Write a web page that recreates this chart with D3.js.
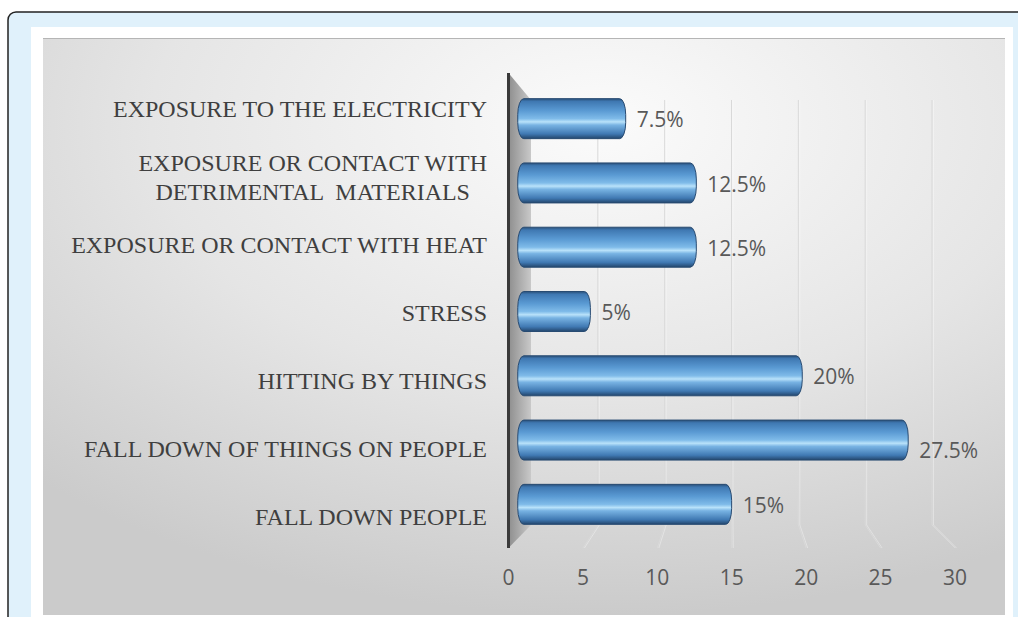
<!DOCTYPE html>
<html>
<head>
<meta charset="utf-8">
<script src="https://cdn.jsdelivr.net/npm/d3@7"></script>
<style>
  html, body { margin: 0; padding: 0; background: #fff; }
  svg { display: block; }
</style>
</head>
<body>
<svg id="viz"></svg>
<script>
var width = 1018;
var height = 617;

// data
var categories = [
	"EXPOSURE TO THE ELECTRICITY",
	"EXPOSURE OR CONTACT WITH\nDETRIMENTAL  MATERIALS",
	"EXPOSURE OR CONTACT WITH HEAT",
	"STRESS",
	"HITTING BY THINGS",
	"FALL DOWN OF THINGS ON PEOPLE",
	"FALL DOWN PEOPLE"
];
var values = [7.5, 12.5, 12.5, 5, 20, 27.5, 15];
var valueLabels = ["7.5%", "12.5%", "12.5%", "5%", "20%", "27.5%", "15%"];
var ticks = [0, 5, 10, 15, 20, 25, 30];

var svg = d3.select("#viz")
	.attr("width", width)
	.attr("height", height)

var defs = svg.append("defs");

// chart background
var bg = defs.append("radialGradient").attr("id", "bg")
	.attr("cx", "58%").attr("cy", "15%").attr("r", "85%")
	.attr("fx", "58%").attr("fy", "15%");
bg.append("stop").attr("offset", "0%").attr("stop-color", "#fbfbfb");
bg.append("stop").attr("offset", "55%").attr("stop-color", "#e5e5e5");
bg.append("stop").attr("offset", "100%").attr("stop-color", "#cbcbcb");

// cylinder look for the bars
var barGrad = defs.append("linearGradient").attr("id", "bar")
	.attr("x1", 0).attr("y1", 0).attr("x2", 0).attr("y2", 1);
[["0%", "#2a5079"], ["7%", "#3f78b2"], ["30%", "#5a9ad3"], ["50%", "#7fbbe9"],
 ["58%", "#b9e2fa"], ["66%", "#78b3e3"], ["88%", "#4079b3"], ["100%", "#23466c"]]
	.forEach(s => barGrad.append("stop").attr("offset", s[0]).attr("stop-color", s[1]));

var wallGrad = defs.append("linearGradient").attr("id", "wall")
	.attr("x1", 0).attr("y1", 0).attr("x2", 1).attr("y2", 0);
wallGrad.append("stop").attr("offset", "0%").attr("stop-color", "#8e8e8e");
wallGrad.append("stop").attr("offset", "100%").attr("stop-color", "#c9c9c9");

// frame
svg.append("rect")
	.attr("x", 8).attr("y", 12).attr("width", 1040).attr("height", 640)
	.attr("rx", 8)
	.style("fill", "#e0f1fb").style("stroke", "#222").style("stroke-width", 1.5);
svg.append("rect")
	.attr("x", 31).attr("y", 27).attr("width", 982).attr("height", 600)
	.style("fill", "#ffffff");
svg.append("rect")
	.attr("x", 43).attr("y", 38).attr("width", 962).attr("height", 577)
	.style("fill", "url(#bg)");
svg.append("line")
	.attr("x1", 43).attr("x2", 1005).attr("y1", 38.5).attr("y2", 38.5)
	.style("stroke", "#b5b5b5").style("stroke-width", 1);

// front, middle and back planes of the 3d plot
var xFront = d3.scaleLinear().domain([0, 30]).range([508.5, 955]);
var xBack = d3.scaleLinear().domain([0, 30]).range([531, 932]);
var xMid = d3.scaleLinear().domain([0, 30]).range([519.75, 943.5]);

var yFront = d3.scaleBand().domain(categories).range([73, 548]);
var yMid = d3.scaleBand().domain(categories).range([86.5, 536.5]);

var barH = 40;

// gridlines: back wall + floor
var grid = svg.append("g");
ticks.slice(1).forEach(t => {
	var path = "M" + xBack(t) + ",100 L" + xBack(t) + ",525 L" + xFront(t) + ",548";
	grid.append("path").attr("d", path)
		.style("fill", "none").style("stroke", "#d9d9d9").style("stroke-width", 1);
	grid.append("path").attr("d", path).attr("transform", "translate(1.5,0)")
		.style("fill", "none").style("stroke", "#ffffff").style("stroke-opacity", 0.35)
		.style("stroke-width", 1);
});

// side wall
svg.append("path")
	.attr("d", "M508.5,73 L531,100 L531,525 L508.5,548 Z")
	.style("fill", "url(#wall)");
svg.append("line")
	.attr("x1", 508.5).attr("x2", 508.5).attr("y1", 73).attr("y2", 548)
	.style("stroke", "#3a3a3a").style("stroke-width", 3);

// bars
var bars = svg.selectAll(".bar")
	.data(values)
	.join("rect")
	.attr("class", "bar")
	.attr("x", d => xMid(0) - 2)
	.attr("y", (d, i) => yMid(categories[i]) + (yMid.bandwidth() - barH) / 2)
	.attr("width", d => xMid(d) - xMid(0) + 2)
	.attr("height", barH)
	.attr("rx", 6).attr("ry", 16)
	.style("fill", "url(#bar)")
	.style("stroke", "#284b72").style("stroke-width", 1);

// value labels
svg.selectAll(".val")
	.data(values)
	.join("text")
	.attr("class", "val")
	.attr("x", d => xMid(d) + 11)
	.attr("y", (d, i) => yMid(categories[i]) + yMid.bandwidth() / 2 + (d > 25 ? 12 : 3))
	.attr("dominant-baseline", "middle")
	.style("font-family", "'Open Sans', sans-serif")
	.style("font-size", "21px")
	.style("fill", "#595959")
	.text((d, i) => valueLabels[i]);

// x tick labels
svg.selectAll(".tick-label")
	.data(ticks)
	.join("text")
	.attr("class", "tick-label")
	.attr("x", d => xFront(d))
	.attr("y", 579)
	.attr("text-anchor", "middle")
	.attr("dominant-baseline", "middle")
	.style("font-family", "'Open Sans', sans-serif")
	.style("font-size", "21px")
	.style("fill", "#595959")
	.text(d => d);

// category labels (serif, right aligned, multi-line blocks centered)
var labelRight = 487;
var lineH = 29;
categories.forEach(c => {
	var lines = c.split("\n");
	var cy = yFront(c) + yFront.bandwidth() / 2 + 5;
	var txt = svg.append("text")
		.style("font-family", "'Liberation Serif', 'Times New Roman', serif")
		.style("font-size", "24px")
		.style("white-space", "pre")
		.style("fill", "#3f3f3f");
	var spans = lines.map((l, k) => txt.append("tspan")
		.attr("x", labelRight)
		.attr("y", cy + (k - (lines.length - 1) / 2) * lineH)
		.attr("dominant-baseline", "middle")
		.attr("text-anchor", "end")
		.text(l));
	if (lines.length > 1) {
		var maxW = d3.max(spans, s => s.node().getComputedTextLength());
		spans.forEach(s => s.attr("text-anchor", "middle").attr("x", labelRight - maxW / 2));
	}
});
</script>
</body>
</html>
